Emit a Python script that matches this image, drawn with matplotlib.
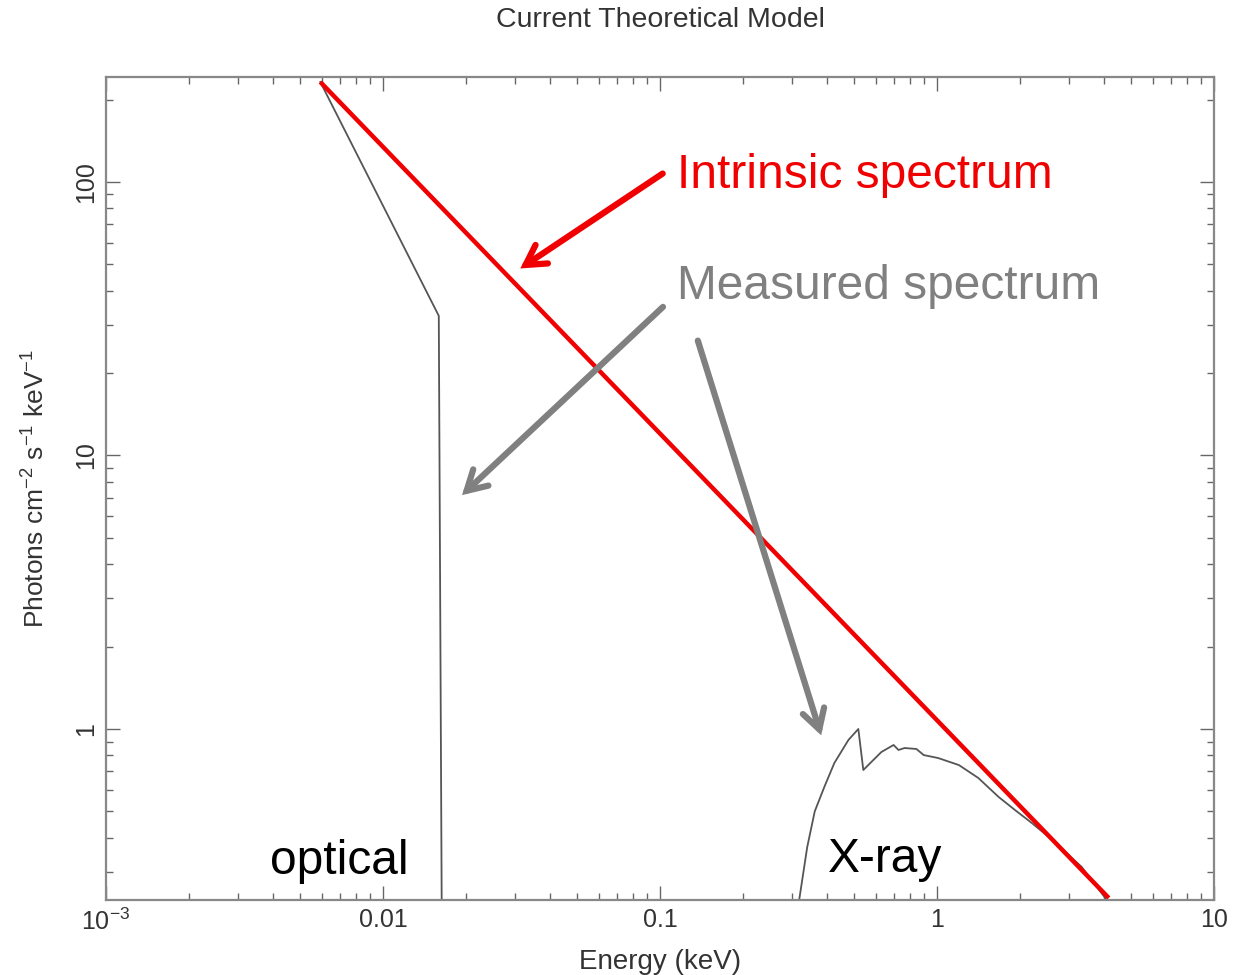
import matplotlib
matplotlib.use("Agg")
import matplotlib.pyplot as plt
from matplotlib.ticker import LogLocator, FixedLocator, FixedFormatter, NullFormatter

# ---- data ----
intrinsic_E = [0.00594, 4.17]
intrinsic_F = [232.0, 0.241]

optical_E = [0.00594, 0.0159, 0.0163]
optical_F = [232.0, 32.4, 0.2]

xray_E = [0.312, 0.318, 0.340, 0.362, 0.392, 0.426, 0.479, 0.520, 0.542,
          0.579, 0.630, 0.697, 0.726, 0.764, 0.843, 0.895, 1.01, 1.20, 1.41,
          1.67, 1.91, 2.20, 2.53, 3.33, 4.10]
xray_F = [0.22, 0.237, 0.37, 0.50, 0.614, 0.751, 0.912, 1.0, 0.708,
          0.757, 0.824, 0.874, 0.838, 0.852, 0.845, 0.803, 0.783, 0.738, 0.662,
          0.564, 0.506, 0.453, 0.403, 0.313, 0.237]

xtick_vals = [1e-3, 0.01, 0.1, 1, 10]
xtick_labels = ["10$^{-3}$", "0.01", "0.1", "1", "10"]
ytick_vals = [1, 10, 100]
ytick_labels = ["1", "10", "100"]

W, H = 1233, 975
fig = plt.figure(figsize=(W / 100, H / 100), dpi=100)
plt.rcParams['font.family'] = ['Liberation Sans', 'DejaVu Sans']
plt.rcParams['mathtext.fontset'] = 'custom'
plt.rcParams['mathtext.rm'] = 'Liberation Sans'

def fx(px):
    return px / W

def fy(py):
    return 1 - py / H

ax = fig.add_axes([fx(106), fy(900), fx(1214) - fx(106), fy(77) - fy(900)])
ax.set_xscale("log")
ax.set_yscale("log")
ax.set_xlim(1e-3, 10)
ax.set_ylim(0.237, 242)

frame_col = "#888888"
for s in ax.spines.values():
    s.set_color(frame_col)
    s.set_linewidth(1.6)

ax.plot(optical_E, optical_F, color="#555555", lw=1.3)
ax.plot(xray_E, xray_F, color="#555555", lw=1.3)
ax.plot(intrinsic_E, intrinsic_F, color="#f00000", lw=3.2, solid_capstyle="butt")

ax.xaxis.set_major_locator(FixedLocator(xtick_vals))
ax.xaxis.set_major_formatter(FixedFormatter(xtick_labels))
ax.yaxis.set_major_locator(FixedLocator(ytick_vals))
ax.yaxis.set_major_formatter(FixedFormatter(ytick_labels))
ax.xaxis.set_minor_locator(LogLocator(base=10, subs=range(2, 10), numticks=20))
ax.yaxis.set_minor_locator(LogLocator(base=10, subs=range(2, 10), numticks=20))
ax.xaxis.set_minor_formatter(NullFormatter())
ax.yaxis.set_minor_formatter(NullFormatter())
ax.tick_params(which="both", direction="in", top=True, right=True, color="#666666")
ax.tick_params(which="major", length=10, width=1.0, labelsize=18, labelcolor="#333333", pad=6)
ax.tick_params(which="minor", length=5, width=1.0)
for lab in ax.get_yticklabels():
    lab.set_rotation(90)
    lab.set_va("center")

ax.set_xlabel("Energy (keV)", fontsize=20, color="#333333", labelpad=10)
ax.set_ylabel("Photons cm$^{-2}$ s$^{-1}$ keV$^{-1}$", fontsize=19, color="#333333", labelpad=18)

fig.text(fx(660), fy(20), "Current Theoretical Model", fontsize=20.5, color="#333333",
         ha="center", va="center")

# annotations
fig.text(fx(677), fy(175), "Intrinsic spectrum", fontsize=34.5, color="#f00000",
         ha="left", va="center")
fig.text(fx(677), fy(287), "Measured spectrum", fontsize=34.5, color="#808080",
         ha="left", va="center")
fig.text(fx(270), fy(862), "optical", fontsize=34.5, color="black",
         ha="left", va="center")
fig.text(fx(828), fy(860), "X-ray", fontsize=34.5, color="black",
         ha="left", va="center")

def arrow(x0, y0, x1, y1, col):
    fig.patches.append(matplotlib.patches.FancyArrowPatch(
        (fx(x0), fy(y0)), (fx(x1), fy(y1)), transform=fig.transFigure,
        arrowstyle="->,head_length=14,head_width=8", color=col, lw=4.5,
        mutation_scale=1, joinstyle="miter", capstyle="round"))

arrow(665, 172, 518, 270, "#f00000")
arrow(665, 305, 460, 497, "#808080")
arrow(697, 338, 822, 738, "#808080")

fig.savefig("out.png", dpi=100)
